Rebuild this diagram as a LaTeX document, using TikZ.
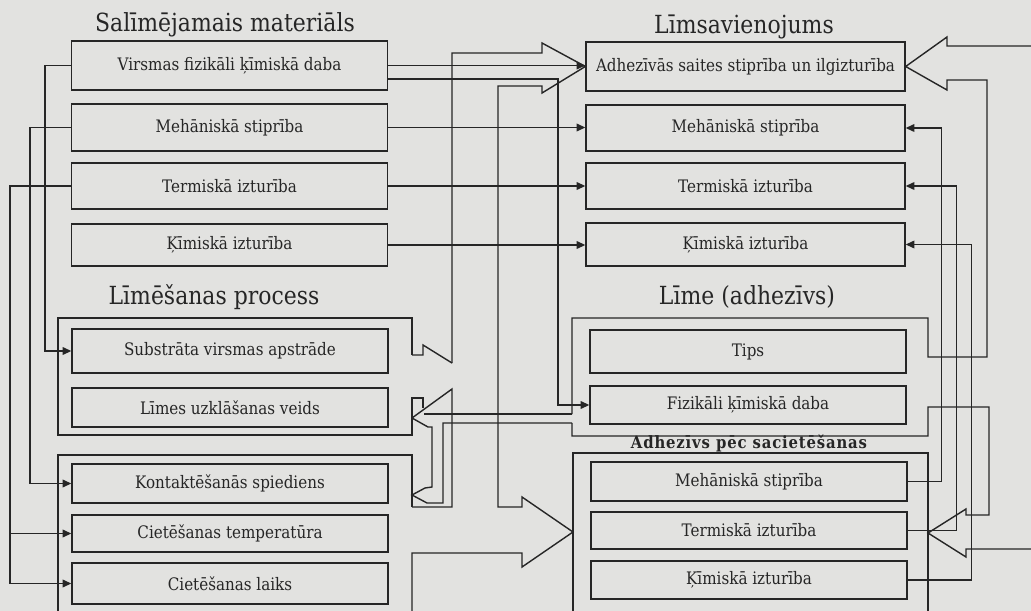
\documentclass[tikz,border=0pt]{standalone}
\usepackage{fontspec}
\setmainfont{DejaVu Serif}[FakeStretch=0.88]
\usepackage{tikz}
\usetikzlibrary{arrows.meta}

\definecolor{paper}{RGB}{226,226,224}
\definecolor{ink}{RGB}{38,38,38}

\tikzset{
  item/.style={draw=ink, text=ink, minimum width=6.32cm, inner sep=0pt,
    font=\fontsize{9.8}{11}\selectfont},
  head/.style={text=ink, inner sep=0pt, font=\fontsize{14.2}{16}\selectfont},
  subhead/.style={text=ink, inner sep=0pt,
    font=\bfseries\fontsize{9.6}{11}\selectfont\addfontfeatures{LetterSpace=5}},
}

\begin{document}
\begin{tikzpicture}[x=0.02cm, y=0.02cm, line width=0.8pt, draw=ink,
  >={Triangle[length=5pt,width=4.4pt]}]
\useasboundingbox (0,0) rectangle (1031,-611);
\fill[paper] (0,0) rectangle (1031,-611);
\clip (0,0) rectangle (1031,-611);

% headings
\node[head] (tmat) at (225,-25) {Salīmējamais materiāls};
\node[head] (tjoint) at (744,-27) {Līmsavienojums};
\node[head] (tproc) at (214,-297) {Līmēšanas process};
\node[head] (tglue) at (747,-297) {Līme (adhezīvs)};
\node[subhead] (tcured) at (749,-444) {Adhezīvs pēc sacietēšanas};

% material
\node[item, minimum height=0.98cm] (ma1) at (229.5,-65.5) {Virsmas fizikāli ķīmiskā daba};
\node[item, minimum height=0.94cm] (ma2) at (229.5,-127.5) {Mehāniskā stiprība};
\node[item, minimum height=0.92cm] (ma3) at (229.5,-186) {Termiskā izturība};
\node[item, minimum height=0.84cm] (ma4) at (229.5,-245) {Ķīmiskā izturība};

% joint
\node[item, minimum height=0.98cm, minimum width=6.38cm] (js1) at (745.5,-66.5) {Adhezīvās saites stiprība un ilgizturība};
\node[item, minimum height=0.92cm, minimum width=6.38cm] (js2) at (745.5,-128) {Mehāniskā stiprība};
\node[item, minimum height=0.92cm, minimum width=6.38cm] (js3) at (745.5,-186) {Termiskā izturība};
\node[item, minimum height=0.86cm, minimum width=6.38cm] (js4) at (745.5,-244.5) {Ķīmiskā izturība};

% process
\node[item, minimum height=0.88cm] (pr1) at (230,-351) {Substrāta virsmas apstrāde};
\node[item, minimum height=0.78cm] (pr2) at (230,-407.5) {Līmes uzklāšanas veids};
\node[item, minimum height=0.78cm] (pr3) at (230,-483.5) {Kontaktēšanās spiediens};
\node[item, minimum height=0.74cm] (pr4) at (230,-533.5) {Cietēšanas temperatūra};
\node[item, minimum height=0.82cm] (pr5) at (230,-583.5) {Cietēšanas laiks};

% adhesive
\node[item, minimum height=0.86cm] (ad1) at (748,-351.5) {Tips};
\node[item, minimum height=0.76cm] (ad2) at (748,-405) {Fizikāli ķīmiskā daba};
\node[item, minimum height=0.78cm] (ad3) at (749,-481.5) {Mehāniskā stiprība};
\node[item, minimum height=0.74cm] (ad4) at (749,-530.5) {Termiskā izturība};
\node[item, minimum height=0.76cm] (ad5) at (749,-580) {Ķīmiskā izturība};

% process groups
\draw (412,-355) -- (412,-318) -- (58,-318) -- (58,-435) -- (412,-435) -- (412,-398) -- (423,-398) -- (423,-408);
\draw (412,-355) -- (423,-355) -- (423,-345) -- (452,-363);
\draw (412,-507) -- (412,-455) -- (58,-455) -- (58,-620);

% wide channel from the process to the joint and the cured adhesive
\draw (452,-363) -- (452,-53) -- (542,-53) -- (542,-43) -- (js1.west) -- (542,-93) -- (542,-86)
  -- (498,-86) -- (498,-507) -- (522,-507) -- (522,-497) -- (573,-532) -- (522,-567) -- (522,-553)
  -- (412,-553) -- (412,-620);
\draw (412,-507) -- (452,-507) -- (452,-389) -- (412,-418);

% adhesive group with its two outlets
\draw (572,-414) -- (572,-318) -- (928,-318) -- (928,-357) -- (987,-357) -- (987,-80) -- (947,-80)
  -- (947,-90) -- (js1.east) -- (947,-37) -- (947,-46) -- (1040,-46);
\draw (572,-423) -- (572,-436) -- (928,-436) -- (928,-407) -- (989,-407) -- (989,-515) -- (966,-515)
  -- (966,-509) -- (928,-533) -- (966,-557) -- (966,-549) -- (1040,-549);
\draw (573,-620) -- (573,-453) -- (928,-453) -- (928,-620);

% adhesive back into the process
\draw (572,-414) -- (424,-414);
\draw (412,-418) -- (428,-427) -- (432,-427) -- (432,-487) -- (425,-488) -- (412,-495) -- (427,-503)
  -- (443,-503) -- (443,-423) -- (572,-423);

% material -> joint
\draw[->] (ma1.east) -- (ma1.east -| js1.west);
\foreach \i in {2,3,4}
  \draw[->] (ma\i.east) -- (ma\i.east -| js\i.west);
\coordinate (bend) at (558,-79);
\draw[->] (ma1.east |- bend) -- (bend) |- (ad2.west);

% material -> process
\draw[->] (ma1.west) -- ++(-26,0) |- (pr1.west);
\draw[->] (ma2.west) -- ++(-41,0) |- (pr3.west);
\draw[->] (ma3.west) -- ++(-61,0) coordinate (trunk) |- (pr5.west);
\draw[->] (trunk |- pr4.west) -- (pr4.west);

% cured adhesive -> joint
\draw[->] (ad3.east) -- ++(34,0) |- (js2.east);
\draw[->] (ad4.east) -- ++(49,0) |- (js3.east);
\draw[->] (ad5.east) -- ++(64,0) |- (js4.east);
\end{tikzpicture}
\end{document}
